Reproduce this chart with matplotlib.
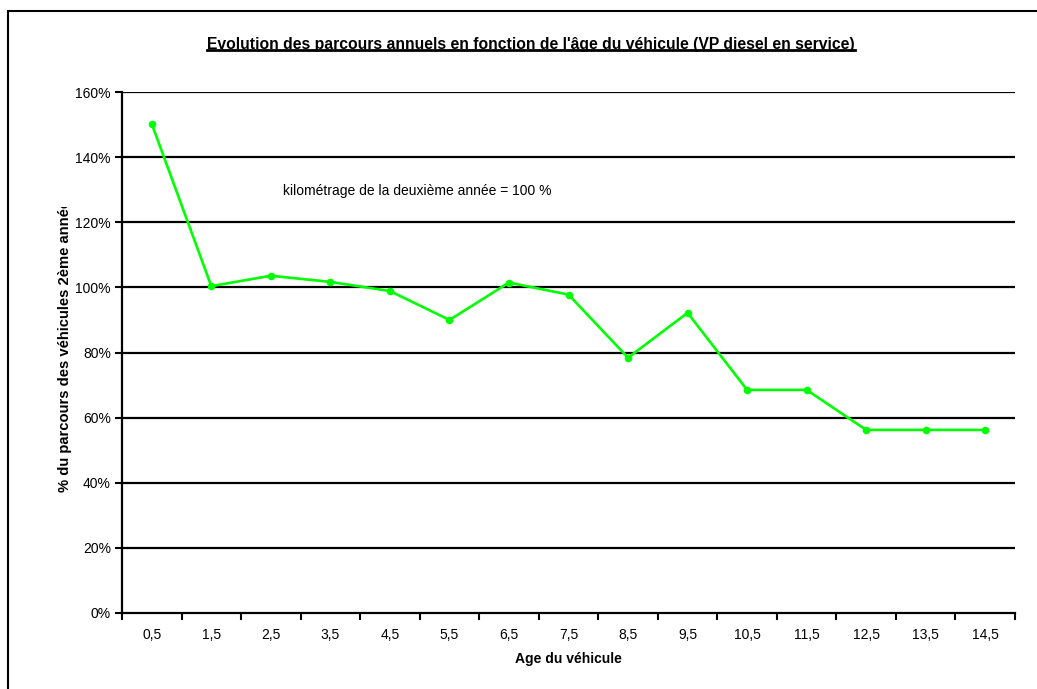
import matplotlib
matplotlib.use("Agg")
import matplotlib.pyplot as plt
from matplotlib.patches import Rectangle
from matplotlib.lines import Line2D
import numpy as np

plt.rcParams['font.family'] = ['Liberation Sans', 'DejaVu Sans']

# age classes (years) and mileage relative to the 2nd year (%)
ages = ['0,5', '1,5', '2,5', '3,5', '4,5', '5,5', '6,5', '7,5',
        '8,5', '9,5', '10,5', '11,5', '12,5', '13,5', '14,5']
parcours = [150.3, 100.4, 103.6, 101.7, 98.9, 90.0, 101.5, 97.8,
            78.4, 92.2, 68.5, 68.5, 56.2, 56.2, 56.2]
yticks = [0, 20, 40, 60, 80, 100, 120, 140, 160]

W, H = 1037, 689
fig = plt.figure(figsize=(W / 100, H / 100), dpi=100)
ax = fig.add_axes([122 / W, 1 - 612.7 / H, (1015 - 122) / W, (612.7 - 92.3) / H])

x = np.arange(len(ages))
ax.plot(x, parcours, color='#00FF00', lw=1.9, marker='o', ms=5.5,
        markeredgewidth=0, zorder=3, clip_on=False)

ax.set_xlim(-0.5, len(ages) - 0.5)
ax.set_ylim(0, 160)
ax.set_xticks(x)
ax.set_xticklabels(ages)
ax.set_xticks(np.arange(-0.5, len(ages)), minor=True)
ax.tick_params(axis='x', which='major', length=0, pad=11, labelsize=10)
ax.tick_params(axis='x', which='minor', length=5, width=1.5, direction='out')
ax.set_yticks(yticks)
ax.set_yticklabels([f'{v}%' for v in yticks])
ax.tick_params(axis='y', length=5, width=1.5, direction='out', pad=3, labelsize=10)

for v in yticks[1:]:
    ax.axhline(v, color='black', lw=1.6, zorder=1)

for s in ['top', 'right']:
    ax.spines[s].set_visible(False)
for s in ['left', 'bottom']:
    ax.spines[s].set_linewidth(1.6)

ax.set_xlabel('Age du véhicule', fontsize=10, fontweight='bold', labelpad=7)

fig.text(283 / W, 1 - 191 / H, 'kilométrage de la deuxième année = 100 %',
         fontsize=10, va='center', ha='left')

ylab = fig.text(65 / W, 1 - 492 / H, '% du parcours des véhicules 2ème année',
                rotation=90, ha='center', va='bottom', fontsize=10.6, fontweight='bold')
# the label box is narrower than the text: hide what overflows at the top
fig.add_artist(Rectangle((45 / W, 1 - 207 / H), 40 / W, 30 / H, facecolor='white',
                         edgecolor='none', transform=fig.transFigure, zorder=5))

title = fig.text(531 / W, 1 - 44 / H,
                 "Evolution des parcours annuels en fonction de l'âge du véhicule (VP diesel en service)",
                 ha='center', va='center', fontsize=11.3, fontweight='bold')

# underline the title
fig.canvas.draw()
bb = title.get_window_extent().transformed(fig.transFigure.inverted())
uy = bb.y0 + 1.5 / H
fig.add_artist(Line2D([bb.x0, bb.x1], [uy, uy], color='black', lw=2,
                      transform=fig.transFigure))

# outer frame of the chart area
fig.add_artist(Rectangle((8 / W, -0.05), 1.1, 1 - 11 / H + 0.05, fill=False,
                         edgecolor='black', lw=1.5, transform=fig.transFigure))

fig.savefig('out.png', dpi=100)
